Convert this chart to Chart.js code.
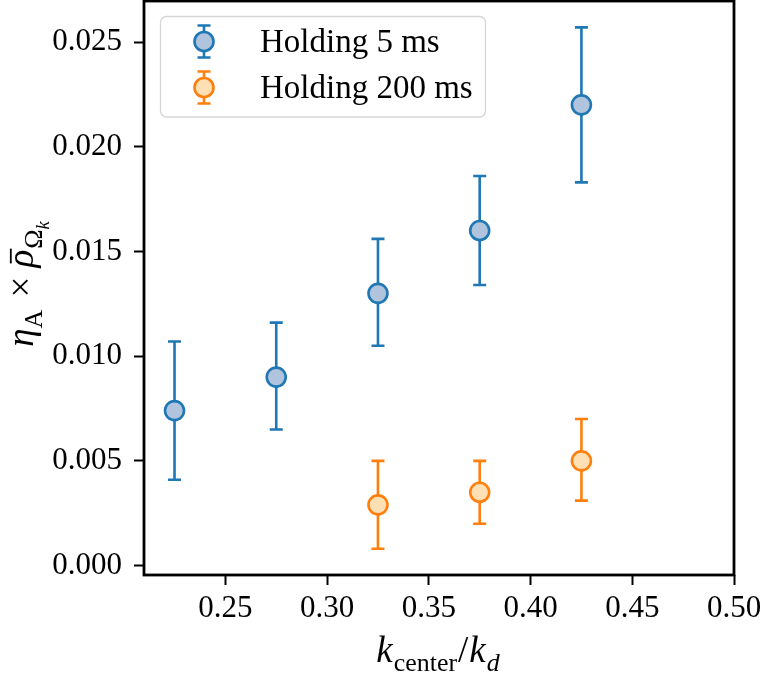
<!DOCTYPE html>
<html>
<head>
<meta charset="utf-8">
<script src="https://cdn.jsdelivr.net/npm/chart.js@4/dist/chart.umd.min.js"></script>
<style>
  html, body { margin: 0; padding: 0; background: #ffffff; }
  canvas { display: block; }
</style>
</head>
<body>
<canvas id="c" width="764" height="675"></canvas>
<script>
// ---- data ----
const seriesNames = ['Holding 5 ms', 'Holding 200 ms'];
const xBlue    = [0.225, 0.275, 0.325, 0.375, 0.425];
const yBlue    = [0.0074, 0.0090, 0.0130, 0.0160, 0.0220];
const loBlue   = [0.0041, 0.0065, 0.0105, 0.0134, 0.0183];
const hiBlue   = [0.0107, 0.0116, 0.0156, 0.0186, 0.0257];
const xOrange  = [0.325, 0.375, 0.425];
const yOrange  = [0.0029, 0.0035, 0.0050];
const loOrange = [0.0008, 0.0020, 0.0031];
const hiOrange = [0.0050, 0.0050, 0.0070];
const xTicks = [0.25, 0.30, 0.35, 0.40, 0.45, 0.50];
const yTicks = [0.000, 0.005, 0.010, 0.015, 0.020, 0.025];

const FONT = "'Liberation Serif', 'Times New Roman', serif";
const FS = 31;      // tick labels
const LFS = 33;     // legend
const TFS = 37;     // axis titles
const BLUE = '#1f77b4', BLUE_FILL = '#b0c4de';
const ORANGE = '#ff7f0e', ORANGE_FILL = '#fee0b4';
const LW = 2.6;

function pts(xs, ys, lo, hi) {
  return xs.map((x, i) => ({ x: x, y: ys[i], yMin: lo[i], yMax: hi[i] }));
}

function drawErrorBar(ctx, px, pTop, pBot, color) {
  ctx.save();
  ctx.strokeStyle = color;
  ctx.lineWidth = LW;
  ctx.lineCap = 'butt';
  ctx.beginPath();
  ctx.moveTo(px, pTop); ctx.lineTo(px, pBot);
  ctx.moveTo(px - 6.5, pTop); ctx.lineTo(px + 6.5, pTop);
  ctx.moveTo(px - 6.5, pBot); ctx.lineTo(px + 6.5, pBot);
  ctx.stroke();
  ctx.restore();
}

const errorBars = {
  id: 'errorBars',
  beforeDatasetsDraw(chart) {
    const { ctx, scales: { x, y } } = chart;
    chart.data.datasets.forEach(ds => {
      ds.data.forEach(p => {
        drawErrorBar(ctx, x.getPixelForValue(p.x), y.getPixelForValue(p.yMax), y.getPixelForValue(p.yMin), ds.borderColor);
      });
    });
  }
};

// draw runs of text with sub/sub-sub scripts
function runFont(r) {
  const size = r.lvl === 2 ? TFS * 0.5 : (r.lvl === 1 ? TFS * 0.7 : TFS);
  return (r.it ? 'italic ' : '') + size + 'px ' + FONT;
}
function runsWidth(ctx, runs) {
  let w = 0;
  runs.forEach(r => { ctx.font = runFont(r); w += ctx.measureText(r.t).width + (r.gap || 0); });
  return w;
}
function drawRuns(ctx, runs, cx, baseY) {
  const w = runsWidth(ctx, runs);
  let xx = cx - w / 2;
  runs.forEach(r => {
    ctx.font = runFont(r);
    const shift = r.lvl === 2 ? TFS * 0.42 : (r.lvl === 1 ? TFS * 0.25 : 0);
    ctx.fillText(r.t, xx, baseY + shift);
    const tw = ctx.measureText(r.t).width;
    if (r.bar) {
      ctx.save();
      ctx.lineWidth = 1.8;
      ctx.strokeStyle = '#000';
      ctx.beginPath();
      ctx.moveTo(xx + 4, baseY - TFS * 0.6);
      ctx.lineTo(xx + tw + 1, baseY - TFS * 0.6);
      ctx.stroke();
      ctx.restore();
    }
    xx += tw + (r.gap || 0);
  });
}

const decorations = {
  id: 'decorations',
  afterDraw(chart) {
    const { ctx, chartArea: a } = chart;
    ctx.save();
    // frame
    ctx.strokeStyle = '#000';
    ctx.lineWidth = 2.8;
    ctx.strokeRect(a.left, a.top, a.right - a.left, a.bottom - a.top);

    // legend
    const lx = 160.5, ly = 16.5, lw = 325, lh = 100.5, r = 6;
    ctx.beginPath();
    ctx.roundRect(lx, ly, lw, lh, r);
    ctx.fillStyle = 'rgba(255,255,255,0.85)';
    ctx.fill();
    ctx.lineWidth = 1.3;
    ctx.strokeStyle = '#d6d6d6';
    ctx.stroke();
    const entries = [
      { name: seriesNames[0], c: BLUE, f: BLUE_FILL, y: 41.5, base: 52 },
      { name: seriesNames[1], c: ORANGE, f: ORANGE_FILL, y: 87.5, base: 97.5 }
    ];
    entries.forEach(e => {
      drawErrorBar(ctx, 204, e.y - 16, e.y + 16, e.c);
      ctx.beginPath();
      ctx.arc(204, e.y, 9.5, 0, Math.PI * 2);
      ctx.fillStyle = e.f; ctx.fill();
      ctx.lineWidth = LW; ctx.strokeStyle = e.c; ctx.stroke();
      ctx.fillStyle = '#000';
      ctx.font = LFS + 'px ' + FONT;
      ctx.textAlign = 'left';
      ctx.textBaseline = 'alphabetic';
      ctx.fillText(e.name, 260, e.base);
    });

    // axis titles
    ctx.fillStyle = '#000';
    ctx.textAlign = 'left';
    ctx.textBaseline = 'alphabetic';
    const xRuns = [
      { t: 'k', it: true, lvl: 0, gap: 1 },
      { t: 'center', it: false, lvl: 1, gap: 1 },
      { t: '/', it: false, lvl: 0, gap: 1 },
      { t: 'k', it: true, lvl: 0, gap: 1 },
      { t: 'd', it: true, lvl: 1 }
    ];
    drawRuns(ctx, xRuns, 438, 662);

    const yRuns = [
      { t: 'η', it: true, lvl: 0 },
      { t: 'A', it: false, lvl: 1, gap: 3 },
      { t: ' × ', it: false, lvl: 0 },
      { t: 'ρ', it: true, lvl: 0, bar: true, gap: 1 },
      { t: 'Ω', it: false, lvl: 1 },
      { t: 'k', it: true, lvl: 2 }
    ];
    ctx.translate(33, 284);
    ctx.rotate(-Math.PI / 2);
    drawRuns(ctx, yRuns, 0, 0);
    ctx.restore();
  }
};

new Chart(document.getElementById('c'), {
  type: 'scatter',
  data: {
    datasets: [
      {
        label: seriesNames[0],
        data: pts(xBlue, yBlue, loBlue, hiBlue),
        borderColor: BLUE, backgroundColor: BLUE_FILL,
        pointRadius: 9.5, pointBorderWidth: LW, pointHoverRadius: 9.5
      },
      {
        label: seriesNames[1],
        data: pts(xOrange, yOrange, loOrange, hiOrange),
        borderColor: ORANGE, backgroundColor: ORANGE_FILL,
        pointRadius: 9.5, pointBorderWidth: LW, pointHoverRadius: 9.5
      }
    ]
  },
  options: {
    responsive: false,
    animation: false,
    devicePixelRatio: 1,
    layout: { autoPadding: false, padding: { left: 0, top: 1, right: 30, bottom: 0 } },
    plugins: { legend: { display: false }, tooltip: { enabled: false } },
    scales: {
      x: {
        type: 'linear', min: 0.21, max: 0.50,
        border: { display: false },
        grid: { drawOnChartArea: false, drawTicks: true, tickLength: 10, tickColor: '#000', tickWidth: 2 },
        ticks: { color: '#000', font: { family: FONT, size: FS }, padding: 5, maxRotation: 0,
                 callback: v => v.toFixed(2) },
        afterBuildTicks: s => { s.ticks = xTicks.map(v => ({ value: v })); },
        afterFit: s => { s.height = 100; s.paddingLeft = 0; s.paddingRight = 0; s.paddingTop = 0; s.paddingBottom = 0; }
      },
      y: {
        type: 'linear', min: -0.00045, max: 0.02696,
        border: { display: false },
        grid: { drawOnChartArea: false, drawTicks: true, tickLength: 10, tickColor: '#000', tickWidth: 2 },
        ticks: { color: '#000', font: { family: FONT, size: FS }, padding: 12,
                 callback: v => v.toFixed(3) },
        afterBuildTicks: s => { s.ticks = yTicks.map(v => ({ value: v })); },
        afterFit: s => { s.width = 144; s.paddingLeft = 0; s.paddingRight = 0; s.paddingTop = 0; s.paddingBottom = 0; }
      }
    }
  },
  plugins: [errorBars, decorations]
});
</script>
</body>
</html>
